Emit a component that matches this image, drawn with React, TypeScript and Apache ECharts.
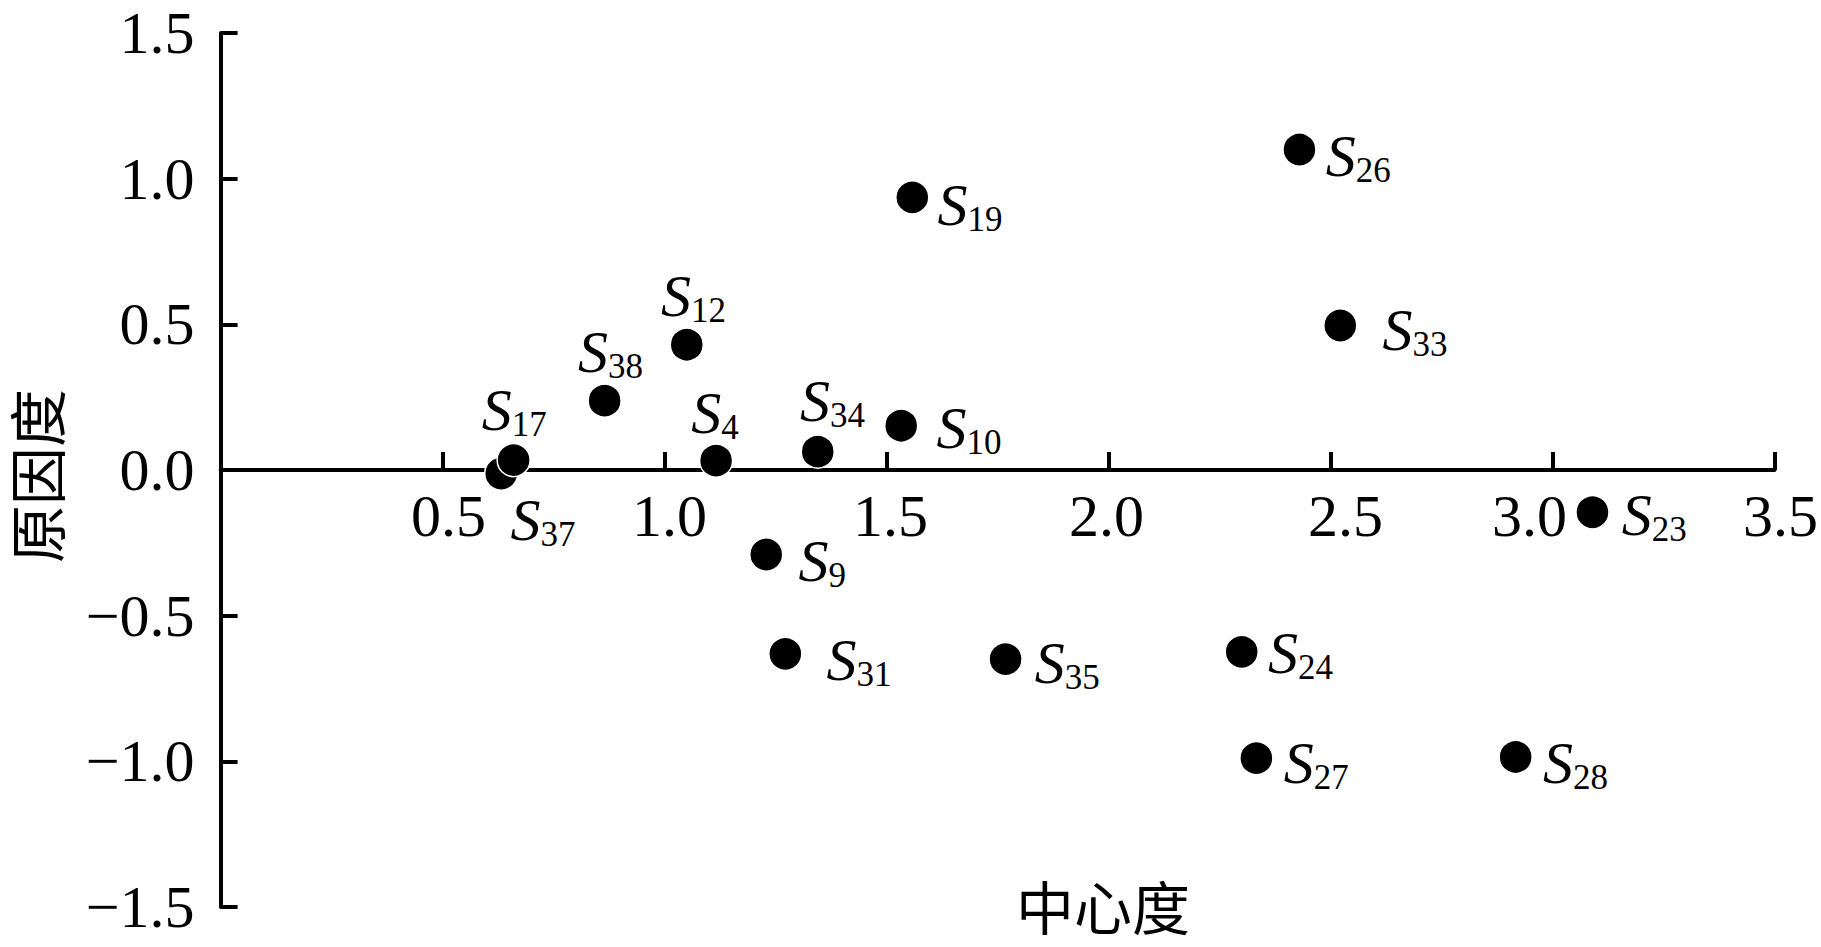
import React, { useEffect, useRef } from 'react';
import * as echarts from 'echarts';

// Data
const pointNames = ['S26', 'S19', 'S33', 'S12', 'S38', 'S37', 'S17', 'S4', 'S34', 'S10', 'S9', 'S23', 'S31', 'S35', 'S24', 'S27', 'S28'];
const centrality = [2.43, 1.558, 2.522, 1.05, 0.865, 0.632, 0.66, 1.116, 1.345, 1.533, 1.229, 3.09, 1.272, 1.768, 2.3, 2.333, 2.917];
const causality = [1.1, 0.936, 0.496, 0.43, 0.238, -0.012, 0.034, 0.032, 0.063, 0.152, -0.29, -0.145, -0.631, -0.649, -0.624, -0.989, -0.985];

const xTickLabels = ['0', '0.5', '1.0', '1.5', '2.0', '2.5', '3.0', '3.5'];
const yTickLabels = ['\u22121.5', '\u22121.0', '\u22120.5', '0.0', '0.5', '1.0', '1.5'];

const xAxisName = '中心度';
const yAxisName = '原因度';

// Layout only: horizontal nudge of each x tick label (px)
const xLabelShift = [0, 6, 5, 4, -2, 15, -23, 6];

// Layout only: offset of the "S" left edge / vertical centre from dot centre (px)
const labelOffsets: Record<string, [number, number]> = {
  S26: [27, 7],
  S19: [26, 8],
  S33: [43, 5],
  S12: [-25, -48],
  S38: [-26, -48],
  S17: [-31, -49],
  S37: [10, 47],
  S4: [-24, -47],
  S34: [-17, -50],
  S10: [36, 3],
  S9: [33, 7],
  S23: [30, 4],
  S31: [42, 7],
  S35: [30, 5],
  S24: [27, 2],
  S27: [28, 6],
  S28: [28, 7],
};

const SERIF = "'Times New Roman', 'Liberation Serif', serif";
const SYMBOL = 33;
const S_FONT = 60;
const GRID_TOP = 33;
const GRID_BOTTOM = 40;
const H = 947;

export default function App() {
  const ref = useRef<HTMLDivElement>(null);

  useEffect(() => {
    if (!ref.current) return;
    const chart = echarts.init(ref.current, undefined, { renderer: 'svg' });

    const data = pointNames.map((name, i) => {
      const [dx, dy] = labelOffsets[name] || [25, 0];
      return {
        name,
        value: [centrality[i], causality[i]],
        label: {
          position: [SYMBOL / 2 + dx, SYMBOL / 2 + dy - S_FONT / 2],
        },
      };
    });

    const yMin = -1.5;
    const yMax = 1.5;
    const gridH = H - GRID_TOP - GRID_BOTTOM;
    // move the x axis (line, ticks and labels) up to y = 0
    const xAxisOffset = -((0 - yMin) / (yMax - yMin)) * gridH;

    const xRich: any = {};
    xLabelShift.forEach((s, i) => {
      xRich['t' + i] = {
        fontFamily: SERIF,
        fontSize: 60,
        color: '#000',
        padding: s >= 0 ? [0, 0, 0, 2 * s] : [0, -2 * s, 0, 0],
      };
    });

    const option: any = {
      animation: false,
      backgroundColor: '#ffffff',
      grid: { left: 220.6, right: 45, top: GRID_TOP, bottom: GRID_BOTTOM, containLabel: false },
      xAxis: {
        type: 'value',
        min: 0,
        max: 3.5,
        interval: 0.5,
        offset: xAxisOffset,
        splitLine: { show: false },
        axisLine: { show: true, onZero: false, lineStyle: { color: '#000', width: 4 } },
        axisTick: { show: true, inside: true, length: 18, lineStyle: { color: '#000', width: 4 } },
        axisLabel: {
          showMinLabel: false,
          margin: 46,
          verticalAlign: 'middle',
          fontFamily: SERIF,
          fontSize: 60,
          color: '#000',
          formatter: (v: number) => {
            const i = Math.round(v / 0.5);
            return `{t${i}|${xTickLabels[i] ?? ''}}`;
          },
          rich: xRich,
        },
      },
      yAxis: {
        type: 'value',
        min: yMin,
        max: yMax,
        interval: 0.5,
        splitLine: { show: false },
        axisLine: { show: true, onZero: false, lineStyle: { color: '#000', width: 4 } },
        axisTick: { show: true, inside: true, length: 17, lineStyle: { color: '#000', width: 4 } },
        axisLabel: {
          margin: 26,
          fontFamily: SERIF,
          fontSize: 60,
          color: '#000',
          formatter: (v: number) => yTickLabels[Math.round((v - yMin) / 0.5)] ?? '',
        },
      },
      series: [
        {
          type: 'scatter',
          symbol: 'circle',
          symbolSize: SYMBOL,
          itemStyle: { color: '#000', borderColor: '#fff', borderWidth: 1.5, opacity: 1 },
          label: {
            show: true,
            align: 'left',
            verticalAlign: 'top',
            formatter: (p: any) => `{s|S}{n|${String(p.name).slice(1)}}`,
            rich: {
              s: {
                fontFamily: SERIF,
                fontStyle: 'italic',
                fontSize: S_FONT,
                lineHeight: S_FONT,
                verticalAlign: 'top',
                color: '#000',
              },
              n: {
                fontFamily: SERIF,
                fontSize: 35,
                lineHeight: 35,
                padding: [27, 0, 0, 0],
                verticalAlign: 'top',
                color: '#000',
              },
            },
          },
          emphasis: { disabled: true },
          data,
        },
      ],
      graphic: [
        {
          type: 'text',
          x: 35,
          y: 476,
          rotation: Math.PI / 2,
          style: {
            text: yAxisName,
            fontFamily: 'Noto Sans CJK SC',
            fontSize: 58,
            lineHeight: 58,
            fill: '#000',
            align: 'center',
            verticalAlign: 'middle',
          },
        },
        {
          type: 'text',
          x: 1103,
          y: 905,
          style: {
            text: xAxisName,
            fontFamily: 'Noto Sans CJK SC',
            fontSize: 58,
            lineHeight: 58,
            fill: '#000',
            align: 'center',
            verticalAlign: 'middle',
          },
        },
      ],
    };

    chart.setOption(option);
    return () => chart.dispose();
  }, []);

  return (
    <div
      ref={ref}
      style={{ position: 'fixed', left: 0, top: 0, width: 1821, height: 947, background: '#fff' }}
    />
  );
}
